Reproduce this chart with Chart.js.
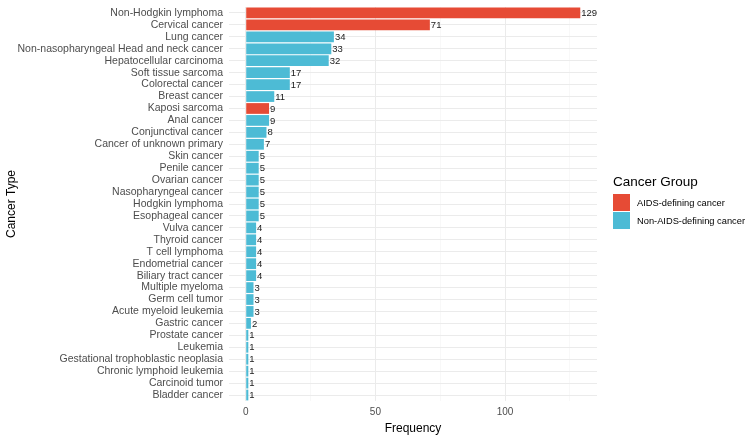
<!DOCTYPE html>
<html lang="en">
<head>
<meta charset="UTF-8">
<title>Cancer Type Frequency</title>
<script src="https://cdn.jsdelivr.net/npm/chart.js@4"></script>
<style>
  body { margin: 0; background: #fff; font-family: "Liberation Sans", Arial, sans-serif; }
  #wrap { position: relative; width: 753px; height: 436px; }
  #legend { position: absolute; left: 613px; top: 174px; white-space: nowrap; }
  #legend .title { font-size: 13.5px; color: #000; margin-bottom: 5px; }
  #legend .item { display: flex; align-items: center; height: 17px; margin-bottom: 1px; font-size: 9.3px; color: #000; }
  #legend .box { width: 17px; height: 17px; margin-right: 7px; }
</style>
</head>
<body>
<div id="wrap">
  <canvas id="canvas" width="753" height="436"></canvas>
  <div id="legend">
    <div class="title">Cancer Group</div>
    <div class="item"><span class="box" style="background:#E64B35"></span>AIDS-defining cancer</div>
    <div class="item"><span class="box" style="background:#4DBBD5"></span>Non-AIDS-defining cancer</div>
  </div>
</div>
<script>
// data, top to bottom as in the picture
const cancerTypes = [
  "Non-Hodgkin lymphoma", "Cervical cancer", "Lung cancer",
  "Non-nasopharyngeal Head and neck cancer", "Hepatocellular carcinoma",
  "Soft tissue sarcoma", "Colorectal cancer", "Breast cancer", "Kaposi sarcoma",
  "Anal cancer", "Conjunctival cancer", "Cancer of unknown primary", "Skin cancer",
  "Penile cancer", "Ovarian cancer", "Nasopharyngeal cancer", "Hodgkin lymphoma",
  "Esophageal cancer", "Vulva cancer", "Thyroid cancer", "T cell lymphoma",
  "Endometrial cancer", "Biliary tract cancer", "Multiple myeloma", "Germ cell tumor",
  "Acute myeloid leukemia", "Gastric cancer", "Prostate cancer", "Leukemia",
  "Gestational trophoblastic neoplasia", "Chronic lymphoid leukemia",
  "Carcinoid tumor", "Bladder cancer"
];
const frequencies = [129, 71, 34, 33, 32, 17, 17, 11, 9, 9, 8, 7, 5, 5, 5, 5, 5, 5,
  4, 4, 4, 4, 4, 3, 3, 3, 2, 1, 1, 1, 1, 1, 1];
const aidsDefining = ["Non-Hodgkin lymphoma", "Cervical cancer", "Kaposi sarcoma"];
const xTicks = [0, 25, 50, 75, 100, 125];

const RED = "#E64B35", BLUE = "#4DBBD5";
const FONT = "'Liberation Sans', Arial, sans-serif";
const colors = cancerTypes.map(c => aidsDefining.includes(c) ? RED : BLUE);

// write the count just after each bar
const valueLabels = {
  id: "valueLabels",
  afterDatasetsDraw(chart) {
    const ctx = chart.ctx;
    const meta = chart.getDatasetMeta(0);
    ctx.save();
    ctx.font = "9.5px " + FONT;
    ctx.fillStyle = "#1a1a1a";
    ctx.textBaseline = "middle";
    ctx.textAlign = "left";
    meta.data.forEach((bar, i) => {
      ctx.fillText(frequencies[i], bar.x + 1, bar.y + 0.5);
    });
    ctx.restore();
  }
};

let ctx = document.getElementById("canvas").getContext("2d");
let chart = new Chart(ctx, {
  type: "bar",
  data: {
    labels: cancerTypes,
    datasets: [{
      data: frequencies,
      backgroundColor: colors,
      borderWidth: 0,
      barPercentage: 0.9,
      categoryPercentage: 1
    }]
  },
  options: {
    indexAxis: "y",
    responsive: false,
    animation: false,
    layout: { padding: { top: 7, right: 156, left: 0, bottom: 0 } },
    plugins: { legend: { display: false }, tooltip: { enabled: false } },
    scales: {
      x: {
        min: -6.45,
        max: 135.45,
        afterBuildTicks: s => { s.ticks = xTicks.map(v => ({ value: v })); },
        afterFit: s => { s.height = 35; s.paddingLeft = 0; s.paddingRight = 0; },
        border: { display: false },
        grid: {
          color: c => (c.tick && c.tick.value % 50 === 0) ? "#EBEBEB" : "#F3F3F3",
          lineWidth: c => (c.tick && c.tick.value % 50 === 0) ? 1 : 0.6,
          drawTicks: false
        },
        ticks: {
          autoSkip: false,
          maxRotation: 0,
          padding: 5,
          color: "#4D4D4D",
          font: { family: FONT, size: 10 },
          callback: v => (v % 50 === 0 ? v : "")
        },
        title: {
          display: true,
          text: "Frequency",
          color: "#000",
          font: { family: FONT, size: 12 },
          padding: { top: 1, bottom: 0 }
        }
      },
      y: {
        afterFit: s => { s.width = 229; s.paddingTop = 0; s.paddingBottom = 0; },
        border: { display: false },
        grid: { offset: false, color: "#EBEBEB", drawTicks: false },
        ticks: {
          autoSkip: false,
          padding: 6,
          color: "#4D4D4D",
          font: { family: FONT, size: 10.5 }
        },
        title: {
          display: true,
          text: "Cancer Type",
          color: "#000",
          font: { family: FONT, size: 12 },
          padding: { top: 4, bottom: 0 }
        }
      }
    }
  },
  plugins: [valueLabels]
});
</script>
</body>
</html>
